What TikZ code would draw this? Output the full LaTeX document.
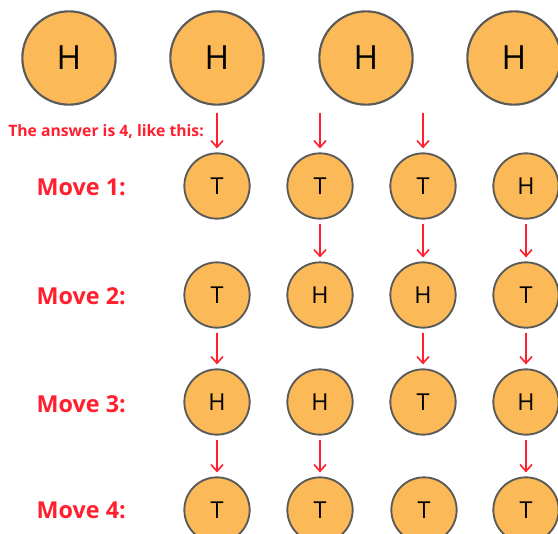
\documentclass[tikz,border=0pt]{standalone}
\usepackage{fontspec}
\setmainfont{Open Sans}
\usetikzlibrary{arrows.meta}
\definecolor{coinfill}{HTML}{FBBA57}
\definecolor{coinedge}{HTML}{5A5A5A}
\definecolor{redtxt}{HTML}{FF1F2E}
\tikzset{
  bigcoin/.style={circle,draw=coinedge,fill=coinfill,line width=1.6pt,minimum size=70pt,inner sep=0pt,font=\fontsize{25}{25}\selectfont},
  coin/.style={circle,draw=coinedge,fill=coinfill,line width=1.4pt,minimum size=49pt,inner sep=0pt,font=\fontsize{17.5}{18}\selectfont},
  movelbl/.style={text=redtxt,font=\bfseries\fontsize{17.5}{18}\selectfont,anchor=west},
  flip/.style={draw=redtxt,line width=1.2pt,-{Straight Barb[length=5pt,width=9pt,line width=1.2pt]},shorten <=3pt,shorten >=3pt}
}
\begin{document}
\begin{tikzpicture}[x=0.75pt,y=-0.75pt]
\useasboundingbox (0,0) rectangle (558,533);
% top row
\node[bigcoin] (t1) at (69,58) {H};
\node[bigcoin] (t2) at (217,58) {H};
\node[bigcoin] (t3) at (366,58) {H};
\node[bigcoin] (t4) at (514,58) {H};
% label
\node[text=redtxt,font=\bfseries\fontsize{11.8}{12}\selectfont,anchor=west,inner sep=0pt] (ans) at (8,132) {The answer is 4, like this:};
% rows
\node[movelbl] (m1) at (32,187) {Move 1:};
\node[movelbl] (m2) at (32,296) {Move 2:};
\node[movelbl] (m3) at (32,404) {Move 3:};
\node[movelbl] (m4) at (32,510) {Move 4:};
\node[coin] (a1) at (217,186) {T};
\node[coin] (a2) at (320,186) {T};
\node[coin] (a3) at (423,186) {T};
\node[coin] (a4) at (526,186) {H};
\node[coin] (b1) at (217,295) {T};
\node[coin] (b2) at (320,295) {H};
\node[coin] (b3) at (423,295) {H};
\node[coin] (b4) at (526,295) {T};
\node[coin] (c1) at (217,402) {H};
\node[coin] (c2) at (320,402) {H};
\node[coin] (c3) at (423,402) {T};
\node[coin] (c4) at (526,402) {H};
\node[coin] (d1) at (217,510) {T};
\node[coin] (d2) at (320,510) {T};
\node[coin] (d3) at (424,510) {T};
\node[coin] (d4) at (526,510) {T};
% arrow starts for first move
\coordinate (s1) at (217,113);
\coordinate (s2) at (320,113);
\coordinate (s3) at (423,113);
\draw[flip,shorten <=0pt] (s1) -- (a1);
\draw[flip,shorten <=0pt] (s2) -- (a2);
\draw[flip,shorten <=0pt] (s3) -- (a3);
\draw[flip] (a2) -- (b2);
\draw[flip] (a3) -- (b3);
\draw[flip] (a4) -- (b4);
\draw[flip] (b1) -- (c1);
\draw[flip] (b3) -- (c3);
\draw[flip] (b4) -- (c4);
\draw[flip] (c1) -- (d1);
\draw[flip] (c2) -- (d2);
\draw[flip] (c4) -- (d4);
\end{tikzpicture}
\end{document}
